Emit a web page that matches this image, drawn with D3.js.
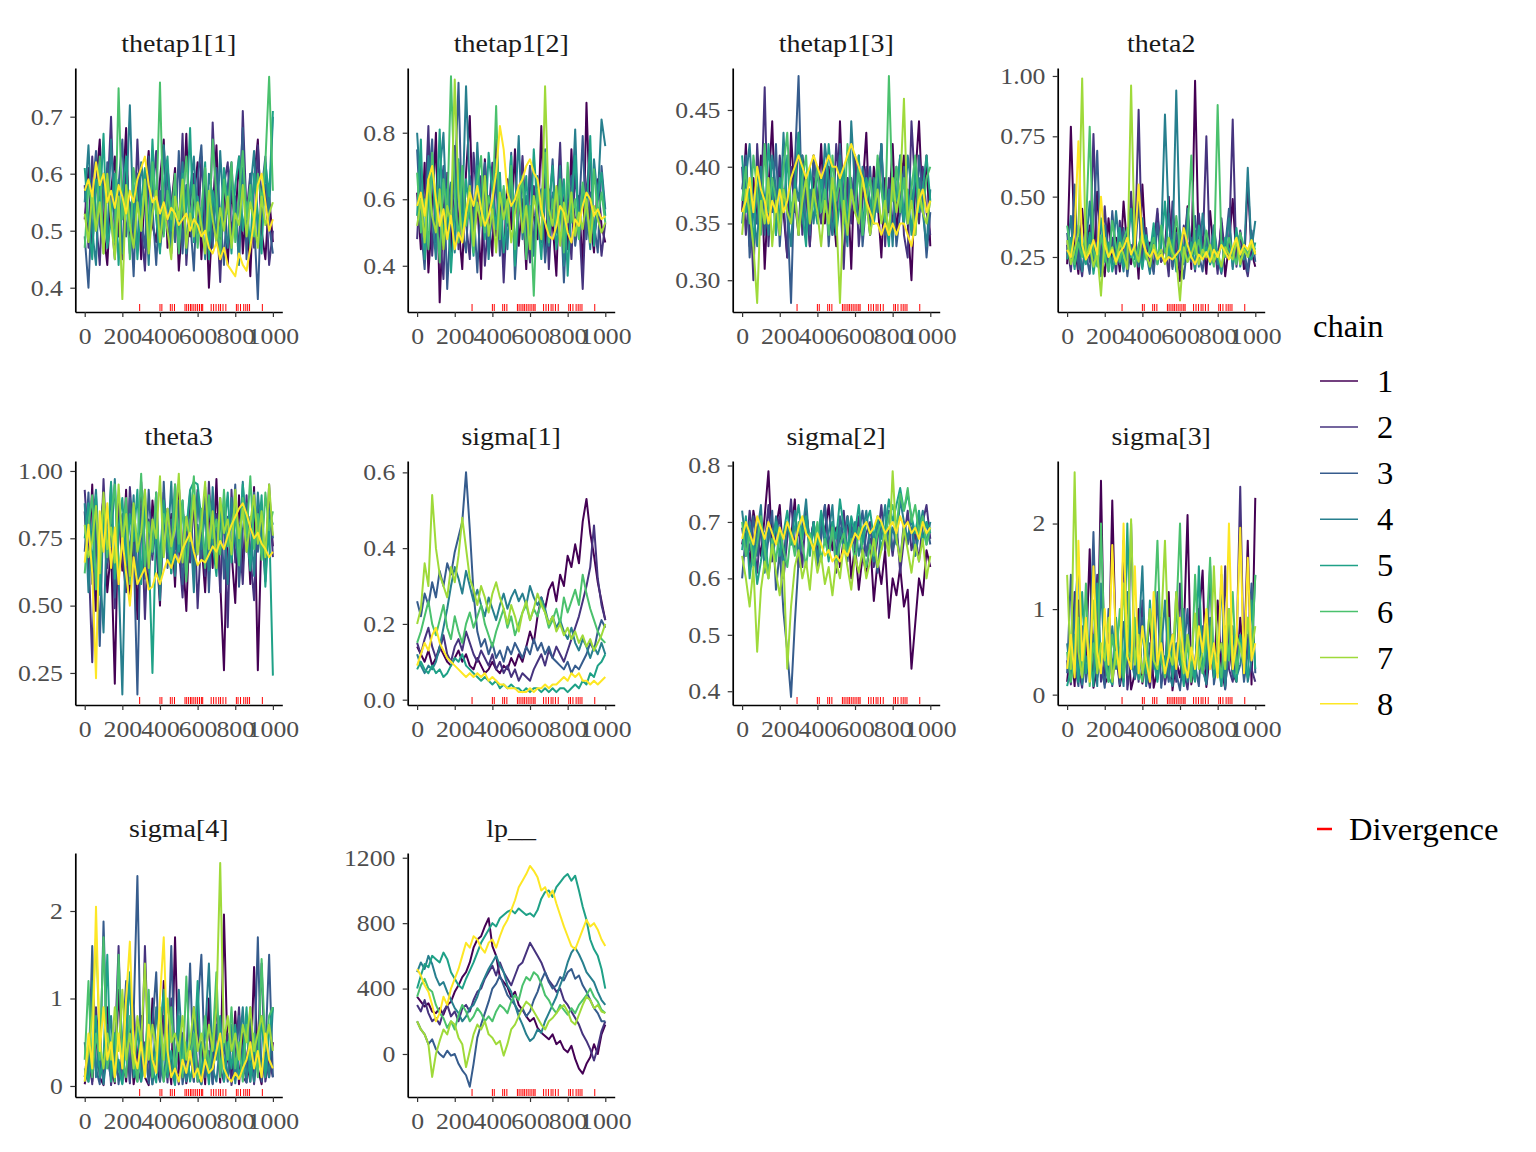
<!DOCTYPE html>
<html><head><meta charset="utf-8">
<script src="https://cdn.jsdelivr.net/npm/d3@7"></script>
<style>body{margin:0;background:#fff}svg{display:block}text{font-family:"Liberation Serif","Times New Roman",serif}</style>
</head><body>
<svg id="c" width="1536" height="1152"></svg>
<script>
const iterations = [0,20,40,60,80,100,120,140,160,180,200,220,240,260,280,300,320,340,360,380,400,420,440,460,480,500,520,540,560,580,600,620,640,660,680,700,720,740,760,780,800,820,840,860,880,900,920,940,960,980,1000];
const chains = ["1","2","3","4","5","6","7","8"];
const chainColors = ["#440154","#46337E","#365C8D","#277F8E","#1FA187","#4AC16D","#9FDA3A","#FDE725"];
const divergences = [292,400,410,455,465,477,533,542,552,562,570,580,590,600,610,620,627,672,685,698,712,722,735,750,806,815,828,845,856,866,876,944];
const xTickValues = [0,200,400,600,800,1000];

const thetap1_1 = [
[.52,.61,.47,.58,.66,.50,.44,.57,.63,.49,.55,.68,.46,.53,.60,.45,.57,.64,.51,.48,.59,.66,.47,.54,.61,.43,.52,.67,.49,.56,.62,.45,.58,.40,.53,.65,.48,.60,.44,.57,.51,.63,.46,.55,.42,.59,.66,.50,.45,.56,.48],
[.58,.47,.63,.52,.44,.60,.55,.70,.49,.57,.45,.62,.53,.48,.66,.51,.43,.59,.56,.64,.47,.52,.61,.46,.58,.50,.67,.44,.55,.60,.48,.63,.52,.46,.69,.54,.41,.58,.62,.49,.56,.45,.71,.53,.60,.47,.65,.52,.58,.44,.50],
[.49,.40,.56,.64,.51,.47,.62,.53,.45,.58,.66,.49,.55,.42,.60,.52,.47,.63,.54,.44,.57,.50,.61,.55,.48,.64,.46,.58,.52,.43,.59,.65,.50,.56,.47,.61,.53,.44,.58,.62,.49,.55,.68,.45,.60,.52,.38,.57,.63,.51,.46],
[.55,.65,.50,.44,.61,.57,.48,.66,.52,.59,.46,.55,.72,.50,.47,.62,.56,.44,.60,.53,.49,.65,.55,.47,.58,.51,.62,.46,.57,.63,.50,.54,.45,.60,.56,.48,.64,.52,.47,.59,.55,.44,.61,.50,.57,.64,.49,.55,.60,.53,.70],
[.61,.52,.45,.59,.54,.67,.47,.52,.60,.44,.56,.63,.50,.58,.45,.55,.61,.49,.66,.52,.46,.58,.63,.50,.55,.47,.60,.53,.68,.48,.56,.51,.62,.45,.57,.53,.49,.61,.55,.46,.58,.63,.50,.55,.47,.60,.53,.46,.62,.56,.71],
[.47,.58,.54,.50,.63,.46,.59,.53,.48,.75,.52,.57,.45,.61,.55,.50,.58,.47,.62,.53,.76,.49,.57,.52,.60,.46,.55,.63,.51,.58,.47,.54,.61,.50,.66,.56,.45,.59,.53,.62,.48,.56,.64,.52,.58,.49,.60,.55,.62,.77,.57],
[.53,.48,.57,.50,.55,.46,.60,.52,.45,.56,.38,.58,.51,.47,.55,.50,.59,.46,.53,.57,.48,.54,.50,.45,.56,.52,.59,.47,.53,.49,.55,.51,.46,.57,.52,.48,.54,.50,.56,.47,.53,.51,.58,.49,.55,.52,.47,.56,.51,.53,.55],
[.57,.59,.56,.62,.58,.60,.55,.57,.54,.58,.56,.53,.57,.55,.59,.61,.63,.58,.55,.56,.53,.55,.52,.54,.53,.51,.52,.53,.50,.52,.51,.49,.50,.47,.46,.48,.45,.47,.44,.43,.42,.46,.44,.43,.47,.52,.58,.60,.55,.50,.52]];

const thetap1_2 = [
[.62,.45,.71,.38,.55,.80,.29,.57,.66,.44,.73,.52,.39,.68,.85,.47,.60,.36,.72,.54,.43,.78,.58,.41,.66,.51,.75,.46,.60,.39,.70,.55,.48,.82,.44,.63,.53,.37,.69,.57,.45,.75,.50,.61,.38,.89,.54,.44,.66,.52,.47],
[.48,.70,.55,.82,.43,.61,.50,.36,.68,.57,.76,.45,.62,.53,.42,.74,.58,.67,.40,.55,.71,.49,.63,.35,.58,.69,.44,.56,.73,.52,.41,.64,.57,.47,.70,.39,.61,.54,.77,.46,.59,.42,.68,.55,.33,.63,.74,.48,.57,.43,.53],
[.75,.52,.39,.64,.78,.47,.59,.70,.33,.56,.64,.95,.51,.44,.67,.58,.38,.62,.71,.47,.55,.66,.43,.60,.52,.74,.36,.57,.65,.49,.70,.45,.58,.63,.41,.54,.72,.50,.62,.35,.59,.67,.46,.55,.79,.48,.62,.53,.44,.70,.57],
[.80,.61,.47,.73,.55,.42,.68,.80,.50,.65,.44,.71,.56,.94,.62,.48,.77,.53,.66,.42,.59,.72,.50,.63,.45,.68,.56,.79,.48,.61,.54,.43,.67,.58,.75,.46,.62,.52,.70,.40,.66,.55,.81,.49,.63,.58,.45,.72,.60,.84,.76],
[.55,.78,.42,.60,.69,.53,.81,.46,.63,.38,.57,.72,.49,.66,.55,.43,.70,.59,.48,.74,.62,.51,.68,.44,.57,.73,.40,.61,.53,.67,.47,.75,.56,.42,.63,.58,.70,.45,.55,.66,.37,.59,.73,.50,.64,.55,.79,.46,.61,.68,.55],
[.68,.50,.60,.45,.74,.58,.41,.66,.55,.97,.62,.47,.70,.52,.59,.44,.65,.73,.50,.61,.56,.88,.48,.64,.53,.70,.45,.59,.67,.42,.58,.31,.63,.55,.74,.47,.60,.52,.66,.44,.71,.53,.60,.48,.65,.57,.50,.69,.55,.62,.53],
[.52,.60,.47,.66,.55,.50,.63,.45,.58,.53,.96,.61,.48,.56,.64,.46,.59,.52,.67,.49,.57,.44,.62,.54,.60,.47,.56,.63,.50,.58,.45,.61,.55,.48,.94,.57,.52,.64,.46,.59,.53,.62,.49,.56,.51,.60,.47,.58,.54,.50,.53],
[.58,.62,.55,.66,.70,.60,.52,.57,.48,.55,.45,.50,.47,.56,.62,.58,.64,.57,.52,.55,.60,.68,.82,.75,.62,.58,.60,.64,.66,.70,.72,.68,.66,.57,.53,.49,.48,.52,.58,.56,.50,.47,.54,.52,.58,.62,.60,.55,.57,.54,.55]];

const thetap1_3 = [
[.36,.42,.33,.39,.35,.41,.31,.38,.44,.34,.40,.36,.32,.43,.37,.34,.41,.38,.33,.39,.36,.42,.35,.40,.37,.33,.44,.36,.39,.31,.41,.35,.38,.43,.34,.40,.37,.32,.39,.36,.42,.34,.38,.41,.35,.30,.39,.44,.36,.41,.33],
[.40,.34,.38,.30,.42,.36,.47,.33,.39,.35,.41,.37,.32,.40,.36,.43,.34,.38,.33,.41,.37,.35,.40,.36,.34,.42,.38,.31,.39,.35,.41,.33,.37,.40,.34,.38,.36,.42,.33,.39,.35,.37,.41,.34,.32,.44,.38,.35,.40,.36,.34],
[.38,.41,.32,.37,.35,.40,.34,.39,.36,.42,.33,.38,.36,.28,.40,.48,.35,.39,.34,.41,.37,.36,.40,.33,.38,.35,.42,.37,.34,.39,.36,.41,.33,.37,.40,.35,.38,.42,.34,.37,.39,.33,.36,.40,.35,.38,.34,.41,.37,.32,.36],
[.35,.39,.42,.36,.33,.40,.37,.34,.41,.38,.35,.43,.36,.33,.39,.37,.41,.34,.38,.35,.40,.36,.42,.39,.34,.37,.41,.36,.33,.44,.38,.35,.40,.37,.34,.39,.36,.42,.35,.38,.33,.40,.37,.35,.41,.38,.34,.39,.36,.33,.38],
[.41,.36,.38,.33,.40,.37,.35,.42,.38,.34,.39,.36,.41,.35,.38,.43,.36,.33,.40,.37,.35,.39,.36,.42,.38,.34,.37,.40,.35,.38,.36,.41,.34,.39,.37,.35,.40,.38,.36,.33,.39,.37,.41,.35,.38,.34,.40,.36,.38,.41,.37],
[.37,.40,.35,.41,.38,.34,.42,.36,.39,.37,.35,.40,.43,.36,.38,.34,.39,.41,.35,.37,.40,.36,.38,.34,.41,.37,.39,.35,.42,.38,.36,.40,.34,.37,.39,.36,.41,.38,.35,.48,.37,.40,.36,.39,.35,.38,.41,.37,.36,.39,.40],
[.34,.38,.36,.33,.28,.37,.35,.39,.33,.37,.34,.38,.36,.35,.38,.34,.37,.39,.35,.38,.36,.33,.37,.35,.39,.36,.28,.37,.34,.38,.36,.35,.39,.37,.34,.36,.38,.35,.37,.34,.39,.36,.38,.46,.35,.37,.34,.38,.36,.35,.37],
[.36,.37,.39,.36,.40,.38,.37,.35,.37,.36,.38,.36,.37,.39,.40,.41,.40,.39,.40,.41,.40,.39,.40,.41,.40,.40,.39,.40,.41,.42,.41,.40,.39,.37,.36,.35,.35,.34,.35,.34,.35,.34,.35,.35,.34,.33,.35,.37,.38,.36,.37]];

const theta2 = [
[.22,.79,.30,.18,.45,.25,.38,.20,.52,.27,.17,.41,.24,.33,.19,.48,.28,.22,.36,.16,.55,.26,.31,.19,.43,.23,.29,.50,.21,.37,.15,.27,.46,.20,.98,.25,.33,.18,.44,.26,.22,.39,.17,.30,.49,.24,.35,.20,.56,.27,.21],
[.30,.19,.42,.26,.17,.35,.23,.76,.28,.20,.46,.24,.33,.18,.40,.27,.21,.52,.25,.86,.22,.37,.19,.29,.45,.23,.31,.17,.48,.26,.20,.38,.24,.33,.19,.43,.27,.75,.22,.32,.18,.41,.25,.29,.82,.21,.36,.24,.17,.30,.26],
[.35,.24,.55,.20,.31,.27,.18,.40,.69,.23,.34,.19,.44,.26,.22,.37,.17,.30,.25,.48,.21,.33,.28,.18,.39,.24,.29,.43,.20,.35,.27,.16,.31,.23,.42,.26,.19,.34,.22,.38,.25,.18,.29,.45,.21,.33,.24,.28,.19,.36,.23],
[.26,.42,.21,.33,.19,.29,.48,.24,.31,.17,.38,.26,.22,.44,.28,.19,.35,.25,.30,.21,.41,.27,.18,.36,.24,.32,.84,.40,.26,.94,.33,.22,.45,.28,.36,.21,.43,.30,.25,.38,.22,.32,.27,.41,.20,.35,.29,.24,.62,.28,.40],
[.24,.33,.20,.38,.27,.22,.35,.18,.29,.41,.23,.31,.19,.26,.37,.21,.30,.45,.24,.28,.20,.34,.26,.39,.22,.29,.48,.25,.32,.19,.36,.27,.23,.31,.20,.38,.26,.29,.22,.34,.25,.19,.33,.28,.23,.37,.21,.30,.26,.24,.31],
[.38,.27,.22,.31,.25,.36,.79,.28,.21,.34,.26,.19,.40,.29,.23,.32,.37,.27,.21,.30,.35,.24,.28,.33,.22,.38,.27,.31,.25,.42,.29,.23,.34,.67,.26,.32,.24,.36,.28,.21,.88,.30,.25,.33,.27,.22,.35,.29,.26,.31,.28],
[.32,.22,.28,.35,.99,.24,.30,.21,.27,.09,.33,.25,.29,.22,.31,.26,.20,.96,.28,.23,.34,.26,.21,.30,.25,.28,.22,.33,.27,.24,.07,.29,.23,.26,.31,.22,.28,.25,.30,.23,.27,.21,.29,.26,.24,.32,.22,.28,.25,.30,.27],
[.28,.25,.35,.73,.30,.24,.27,.32,.26,.50,.30,.25,.28,.23,.27,.29,.33,.26,.30,.55,.32,.27,.25,.28,.24,.26,.23,.25,.24,.26,.28,.37,.30,.25,.22,.26,.24,.27,.23,.28,.25,.30,.27,.24,.29,.33,.26,.30,.28,.32,.26]];

const theta3 = [
[.85,.62,.95,.48,.78,.90,.55,.71,.21,.88,.63,.93,.52,.80,.45,.96,.67,.58,.89,.73,.50,.92,.66,.84,.57,.95,.70,.48,.86,.61,.93,.74,.55,.89,.64,.97,.59,.26,.82,.70,.51,.91,.65,.85,.58,.94,.26,.79,.67,.90,.72],
[.93,.70,.29,.85,.59,.97,.64,.80,.49,.91,.68,.55,.94,.73,.60,.88,.45,.82,.67,.92,.57,.78,.86,.62,.95,.71,.53,.83,.66,.90,.49,.77,.61,.96,.70,.84,.55,.88,.42,.93,.66,.80,.58,.91,.69,.52,.87,.74,.63,.95,.68],
[.70,.92,.58,.81,.35,.88,.66,.95,.53,.76,.84,.61,.90,.72,.17,.85,.60,.93,.69,.79,.54,.96,.64,.82,.71,.89,.58,.75,.92,.63,.80,.67,.94,.55,.86,.73,.90,.60,.83,.69,.95,.57,.78,.88,.64,.92,.70,.81,.59,.87,.75],
[.88,.55,.79,.93,.66,.40,.85,.72,.97,.61,.17,.83,.69,.91,.58,.80,.93,.64,.75,.87,.52,.84,.70,.96,.61,.78,.89,.66,.82,.55,.92,.71,.85,.63,.94,.68,.79,.86,.58,.90,.74,.65,.96,.70,.83,.61,.92,.76,.68,.85,.80],
[.75,.88,.63,.91,.54,.82,.70,.96,.60,.79,.90,.65,.84,.74,.93,.58,.87,.71,.25,.81,.67,.89,.76,.62,.92,.70,.85,.78,.93,.96,.95,.82,.68,.90,.73,.61,.86,.77,.92,.66,.84,.71,.95,.79,.63,.88,.73,.91,.57,.82,.24],
[.62,.80,.91,.56,.77,.88,.68,.83,.95,.62,.75,.90,.58,.86,.72,.99,.64,.81,.70,.92,.60,.84,.77,.67,.95,.73,.89,.59,.81,.98,.70,.86,.64,.91,.75,.82,.69,.93,.72,.80,.87,.65,.90,.76,.98,.71,.84,.67,.92,.78,.85],
[.80,.68,.74,.87,.62,.92,.71,.79,.66,.95,.73,.84,.61,.88,.70,.77,.93,.64,.82,.75,.98,.68,.86,.72,.79,.99,.66,.83,.74,.91,.69,.80,.96,.71,.85,.64,.90,.77,.82,.69,.93,.75,.86,.70,.81,.91,.73,.85,.68,.95,.76],
[.66,.80,.62,.23,.85,.70,.88,.64,.79,.58,.75,.62,.50,.68,.58,.61,.64,.56,.57,.62,.58,.63,.67,.64,.69,.66,.71,.74,.77,.70,.65,.67,.66,.69,.72,.70,.74,.71,.76,.80,.83,.86,.88,.84,.79,.75,.77,.73,.71,.68,.70]];

const sigma_1 = [
[.14,.12,.10,.13,.09,.11,.14,.12,.10,.09,.11,.13,.10,.12,.09,.08,.11,.09,.07,.08,.10,.08,.07,.09,.08,.11,.09,.12,.10,.14,.18,.15,.22,.27,.24,.29,.31,.26,.33,.30,.38,.35,.41,.36,.47,.53,.44,.38,.31,.26,.21],
[.15,.12,.16,.19,.14,.11,.13,.17,.12,.10,.14,.16,.13,.18,.15,.12,.10,.13,.11,.09,.12,.08,.10,.07,.09,.06,.08,.05,.07,.06,.05,.08,.10,.12,.09,.13,.11,.14,.12,.10,.13,.16,.19,.22,.26,.30,.35,.46,.32,.25,.21],
[.26,.22,.28,.25,.31,.27,.34,.30,.36,.33,.39,.43,.47,.60,.45,.28,.18,.14,.16,.12,.15,.11,.13,.10,.14,.12,.15,.13,.11,.14,.12,.16,.13,.15,.12,.14,.11,.10,.09,.08,.10,.07,.09,.08,.10,.12,.15,.13,.18,.21,.19],
[.12,.09,.07,.09,.08,.10,.14,.19,.24,.30,.35,.32,.28,.34,.30,.26,.29,.25,.22,.27,.24,.21,.25,.28,.24,.27,.29,.26,.28,.25,.30,.27,.25,.27,.24,.20,.22,.19,.21,.18,.16,.19,.15,.13,.16,.14,.11,.14,.12,.15,.12],
[.08,.10,.08,.07,.09,.07,.08,.06,.07,.09,.11,.10,.12,.09,.08,.07,.06,.05,.06,.05,.04,.05,.03,.04,.03,.04,.03,.03,.02,.03,.02,.03,.03,.02,.03,.02,.03,.02,.03,.03,.02,.03,.04,.03,.05,.04,.07,.06,.09,.10,.12],
[.15,.18,.22,.26,.20,.17,.21,.25,.19,.16,.22,.18,.15,.20,.23,.19,.22,.25,.20,.17,.14,.18,.21,.24,.19,.22,.17,.20,.23,.25,.21,.24,.22,.26,.23,.19,.21,.24,.20,.27,.23,.26,.29,.25,.33,.28,.24,.21,.18,.16,.15],
[.20,.24,.36,.30,.54,.40,.33,.30,.27,.35,.31,.38,.48,.40,.32,.29,.25,.30,.27,.23,.28,.31,.27,.24,.20,.25,.22,.18,.23,.26,.21,.24,.28,.25,.23,.20,.22,.18,.20,.17,.19,.16,.18,.15,.17,.14,.16,.13,.15,.17,.20],
[.09,.12,.15,.13,.17,.19,.15,.13,.11,.10,.09,.08,.07,.06,.07,.06,.07,.06,.07,.05,.06,.05,.04,.04,.03,.03,.03,.02,.02,.02,.03,.02,.03,.03,.04,.03,.04,.04,.05,.06,.05,.07,.06,.07,.05,.05,.04,.05,.04,.05,.06]];

const sigma_2 = [
[.66,.70,.62,.72,.68,.64,.71,.79,.65,.69,.73,.63,.70,.67,.74,.62,.69,.72,.66,.70,.64,.71,.68,.73,.65,.69,.62,.67,.71,.60,.66,.58,.64,.61,.67,.56,.63,.59,.65,.53,.60,.57,.62,.55,.58,.44,.52,.60,.57,.65,.62],
[.69,.64,.72,.67,.61,.70,.66,.73,.63,.68,.71,.60,.67,.74,.65,.69,.62,.72,.66,.70,.63,.68,.73,.65,.70,.61,.67,.72,.64,.69,.66,.71,.63,.68,.70,.62,.67,.73,.65,.69,.64,.70,.61,.67,.72,.65,.68,.63,.70,.73,.67],
[.60,.68,.65,.71,.64,.69,.62,.67,.72,.58,.65,.54,.47,.39,.52,.63,.68,.71,.65,.70,.62,.67,.73,.66,.69,.64,.71,.67,.63,.70,.65,.68,.72,.64,.69,.66,.61,.70,.67,.72,.65,.68,.63,.70,.66,.69,.64,.71,.67,.70,.66],
[.72,.66,.70,.63,.68,.73,.61,.69,.65,.71,.67,.62,.70,.66,.72,.64,.68,.74,.65,.69,.63,.71,.66,.68,.73,.62,.69,.65,.71,.67,.70,.64,.68,.72,.66,.63,.70,.67,.73,.65,.69,.66,.74,.70,.67,.71,.64,.68,.72,.66,.70],
[.65,.71,.60,.66,.59,.63,.68,.61,.65,.70,.64,.68,.72,.66,.69,.73,.67,.71,.64,.70,.66,.72,.68,.63,.70,.67,.74,.69,.65,.71,.68,.73,.66,.70,.72,.67,.71,.65,.69,.74,.70,.73,.76,.72,.75,.71,.68,.72,.66,.70,.68],
[.70,.64,.68,.62,.66,.71,.65,.60,.67,.63,.69,.65,.62,.68,.64,.70,.66,.62,.68,.65,.70,.63,.67,.64,.69,.62,.66,.68,.64,.67,.63,.69,.65,.62,.66,.64,.68,.70,.67,.71,.73,.69,.75,.72,.76,.70,.73,.68,.71,.66,.69],
[.64,.60,.55,.62,.47,.58,.63,.60,.66,.61,.57,.63,.44,.55,.62,.65,.60,.63,.58,.66,.61,.64,.59,.62,.57,.63,.60,.66,.62,.58,.64,.61,.65,.60,.63,.67,.62,.65,.68,.64,.79,.67,.63,.69,.65,.61,.66,.63,.67,.60,.64],
[.67,.70,.68,.66,.71,.69,.67,.70,.68,.66,.69,.67,.70,.68,.66,.69,.71,.68,.67,.65,.68,.66,.64,.65,.63,.64,.63,.65,.64,.66,.68,.67,.69,.70,.68,.69,.71,.70,.68,.69,.70,.68,.71,.69,.70,.68,.69,.67,.70,.68,.69]];

const sigma_3 = [
[.15,.60,.10,1.1,.20,.40,1.7,.08,.30,2.5,.12,.22,2.27,.50,.10,.35,.80,.06,.25,1.0,.13,.45,.90,.08,.30,.60,.15,1.2,.05,.40,.20,.70,2.1,.12,.35,.90,1.45,.09,.50,.20,1.1,.30,.07,.60,.25,.15,.90,.40,1.8,.12,2.3],
[.40,.12,1.2,.30,.08,.70,.25,.50,1.4,.15,.35,.90,.10,.60,.20,1.8,.06,.40,.80,.15,1.1,.30,.08,.50,.22,.90,.12,.40,.70,.15,1.3,.28,.06,.55,.18,1.0,.35,.12,.80,.25,.60,.10,1.5,.30,.15,.50,2.43,.20,.70,.30,.15],
[.25,1.4,.35,.10,.80,.15,.50,1.9,.20,.40,.08,1.0,.30,.60,.12,.85,.25,2.0,.18,.40,.90,.10,.60,.30,1.2,.08,.45,.15,.70,.25,.05,.50,1.0,.20,.35,.10,.80,.30,1.5,.12,.40,.60,.06,.90,.20,.35,.70,.15,.50,1.3,.25],
[.60,.20,.90,1.6,.12,.45,.25,.70,.10,1.3,.35,.15,.80,.30,.55,.10,1.2,.40,.20,.65,1.5,.12,.30,.85,.18,.50,1.1,.25,.10,.60,.35,1.0,.15,.45,.20,.70,.30,.12,.90,.40,.25,1.4,.10,.55,.80,.20,.35,.65,.15,.40,1.4],
[.10,.30,.70,.15,1.2,.25,.50,.10,1.3,.35,.60,.20,.12,.90,.40,.15,2.0,.30,.55,.18,.80,.25,1.1,.40,.15,.60,.30,.90,.20,1.2,.45,.10,.70,.35,.15,1.5,.25,.50,.80,.20,.40,.10,.60,1.0,.30,.15,.70,.40,.20,1.1,.30],
[.50,.15,.40,.90,.25,1.3,.10,.60,.30,2.0,.45,.15,.70,.35,1.0,.20,.55,.40,.90,.30,.15,.60,.25,.80,1.8,.40,.20,.50,.35,.90,2.0,.30,.60,.15,1.4,.45,.25,.70,1.6,.30,.50,.20,.80,.40,1.2,.25,.60,.35,.90,.45,1.4],
[1.4,.30,2.6,.50,.20,.80,.35,1.1,.25,.60,.40,.90,.15,.50,.30,1.3,.45,2.05,.35,.70,.25,.55,1.0,.40,.30,.80,1.8,.50,.35,1.2,.60,.25,.70,.40,.95,.30,.50,.80,.35,1.5,.45,.60,.30,1.0,.40,.70,.55,.35,.90,.50,.80],
[.30,.70,.20,1.8,.40,.90,.15,1.5,.50,.25,1.0,.35,1.75,.60,.20,2.0,.45,.30,1.5,.25,.80,.40,.15,1.2,.35,.60,.25,.45,.70,.30,.90,.40,.20,.55,.30,.80,.50,1.0,.30,.60,.20,1.5,.40,2.0,.30,.60,1.95,.25,1.6,.40,.60]];

const sigma_4 = [
[.02,.30,.05,.60,.10,.01,.90,.20,.03,1.1,.40,.05,.70,.02,.30,.80,.10,.01,1.0,.25,.05,1.2,.40,.02,1.7,.15,.60,.03,.30,.90,.05,.50,.02,1.0,.20,.70,.04,1.96,.30,.10,.85,.02,.60,.30,.05,1.36,.20,.02,.50,.10,.50],
[.10,.50,.02,.90,.30,.05,.70,.01,.40,1.6,.10,.60,.03,.90,.20,.05,1.6,.30,.02,.50,.10,.80,.04,1.0,.30,.02,.60,.10,.40,.05,.80,.02,.30,.70,.03,1.0,.20,.05,.60,.01,.30,.90,.10,.04,.70,.02,.50,1.4,.05,.30,.10],
[.50,.05,1.6,.20,.02,1.88,.30,.10,.60,.02,.40,1.2,.05,.80,2.4,.10,.50,.03,.70,1.3,.05,.40,.20,1.6,.10,.60,.02,.30,1.4,.05,.90,1.5,.10,.40,.02,.70,.20,.50,.05,.60,.10,.80,.30,.04,.90,.20,1.7,.05,.40,1.5,.10],
[.05,.20,1.2,.10,.50,.02,.40,.80,.10,.30,.03,.60,1.2,.20,.05,.50,.10,.70,.02,.90,.30,.05,.60,.20,.01,1.1,.40,.05,.30,.80,.10,.02,.60,1.4,.20,.05,.50,.30,.10,.70,.03,.40,.90,.10,.30,.05,.60,.20,.40,.10,.90],
[.20,.05,.40,.80,.10,.30,1.5,.05,.60,.20,.02,.50,1.3,.10,.70,.05,.30,.90,.20,.04,.60,1.1,.10,.40,.02,.80,.20,.50,.05,.30,1.2,.10,.40,.02,.60,.30,.80,.05,.50,.20,.70,.10,.30,.90,.05,.50,.20,.80,.10,.60,.90],
[.30,1.2,.10,.60,.30,1.7,.20,.50,.05,1.5,.30,.10,.80,.40,.05,.60,.20,1.1,.10,.40,.70,.05,.30,.90,.20,.50,.10,1.25,.30,.60,.05,.40,.80,.20,.50,1.3,.10,.60,.30,.90,.20,.50,.05,.70,.30,.60,.10,1.45,.40,.80,.90],
[.10,.40,.80,1.7,.50,.20,.60,.30,.90,.40,1.1,.30,.60,.20,.80,.50,1.4,.30,.70,.40,.90,.30,1.0,.50,.60,.40,.80,.30,.50,.90,.40,.60,.30,.70,.40,.90,2.55,.50,.80,.40,.60,.30,.70,.50,.90,.40,.60,.80,.50,.70,.40],
[.05,.60,.20,2.05,.40,.90,.30,.50,.10,.60,.20,1.0,1.65,.40,.20,.50,.10,.70,.30,.15,1.0,1.7,.40,.10,.20,.05,.30,.15,.40,.10,.20,.05,.30,.15,.20,.40,.60,.20,.10,.05,.15,.08,.20,.30,.50,.20,.40,.10,.60,.30,.20]];

const lp__ = [
[350,320,290,310,260,250,280,240,300,320,380,420,470,500,560,650,700,720,780,830,660,600,470,440,410,350,380,300,270,230,200,220,160,130,110,90,120,60,80,30,10,50,-30,-90,-120,-60,-20,60,0,120,180],
[300,260,330,250,200,220,180,260,300,230,260,200,280,300,260,330,380,400,460,500,540,480,560,500,460,420,480,540,560,620,680,640,600,560,500,450,420,380,400,330,300,260,220,180,120,80,30,-40,40,140,200],
[200,150,120,60,90,30,0,-20,20,-10,0,-60,-100,-130,-200,-60,100,180,250,320,400,430,480,420,360,330,300,260,280,230,260,330,380,450,500,440,400,420,470,450,500,520,460,480,420,380,330,280,250,200,200],
[500,560,520,600,550,470,420,440,380,330,280,250,200,230,280,300,350,420,470,520,560,600,540,500,420,380,300,230,180,120,80,100,150,130,200,250,300,350,420,480,560,620,650,610,560,500,470,440,380,330,300],
[400,480,550,530,600,580,560,620,580,500,460,420,400,460,510,560,620,680,720,760,800,780,830,850,870,880,860,890,870,850,860,840,880,950,990,1000,960,1020,1050,1080,1100,1060,1090,1000,900,820,700,640,600,520,400],
[350,420,460,400,380,300,250,220,160,200,150,240,300,260,200,230,280,250,200,230,200,260,300,280,250,320,360,330,420,470,450,500,480,430,360,330,280,250,300,270,240,280,250,300,330,360,400,350,320,270,250],
[200,150,120,60,-140,0,80,150,120,200,180,100,60,-80,20,120,180,150,200,120,100,60,80,-10,60,150,180,230,280,320,300,260,220,180,150,200,220,250,280,300,260,200,180,240,300,350,330,280,300,260,250],
[520,480,420,380,300,200,250,350,300,400,460,520,600,680,650,720,700,650,620,680,700,650,720,780,820,880,940,1020,1060,1100,1150,1120,1080,1000,1020,960,1000,920,850,780,720,660,640,700,760,820,780,800,760,700,660]];

const panelTitles = ["thetap1[1]","thetap1[2]","thetap1[3]","theta2","theta3","sigma[1]","sigma[2]","sigma[3]","sigma[4]","lp__"];
const panelData = [thetap1_1, thetap1_2, thetap1_3, theta2, theta3, sigma_1, sigma_2, sigma_3, sigma_4, lp__];
const yTickValues = [[0.4,0.5,0.6,0.7],[0.4,0.6,0.8],[0.30,0.35,0.40,0.45],[0.25,0.5,0.75,1],[0.25,0.5,0.75,1],[0,0.2,0.4,0.6],[0.4,0.5,0.6,0.7,0.8],[0,1,2],[0,1,2],[0,400,800,1200]];
const yTickLabels = [["0.4","0.5","0.6","0.7"],["0.4","0.6","0.8"],["0.30","0.35","0.40","0.45"],["0.25","0.50","0.75","1.00"],["0.25","0.50","0.75","1.00"],["0.0","0.2","0.4","0.6"],["0.4","0.5","0.6","0.7","0.8"],["0","1","2"],["0","1","2"],["0","400","800","1200"]];
const yDomains = [[0.3574,0.7854],[0.261,0.9946],[0.272,0.487],[0.022,1.033],[0.131,1.037],[-0.014,0.630],[0.3756,0.808],[-0.121,2.731],[-0.126,2.663],[-263,1229]];

// ---- layout ----
const colLeft = [75.3, 407.7, 732.7, 1057.7], rowTop = [68, 461, 853];
const pw = 207, ph = 244;
const SX = 1.12;
const svg = d3.select("#c");

panelData.forEach((series, i) => {
  const col = i % 4, row = Math.floor(i / 4);
  const x0 = colLeft[col], y0 = rowTop[row];
  const x = d3.scaleLinear().domain([-50, 1050]).range([x0, x0 + pw]);
  const y = d3.scaleLinear().domain(yDomains[i]).range([y0 + ph, y0]);
  const g = svg.append("g");
  const line = d3.line().x((d, j) => x(iterations[j])).y(d => y(d)).curve(d3.curveLinear);
  series.forEach((vals, c) => {
    g.append("path").attr("d", line(vals.slice(0, iterations.length)))
      .attr("fill", "none").attr("stroke", chainColors[c])
      .attr("stroke-width", 2).attr("stroke-linejoin", "round");
  });
  g.append("g").selectAll("line").data(divergences).join("line")
    .attr("x1", d => x(d)).attr("x2", d => x(d))
    .attr("y1", y0 + ph - 8).attr("y2", y0 + ph - 1)
    .attr("stroke", "#ff0000").attr("stroke-width", 1);

  const xa = g.append("g").attr("transform", `translate(0,${y0 + ph})`)
    .call(d3.axisBottom(x).tickValues(xTickValues).tickFormat(d3.format("d")).tickSize(5).tickSizeOuter(0).tickPadding(11));
  const ya = g.append("g").attr("transform", `translate(${x0},0)`)
    .call(d3.axisLeft(y).tickValues(yTickValues[i]).tickFormat((d, k) => yTickLabels[i][k]).tickSize(5).tickSizeOuter(0).tickPadding(6));
  [xa, ya].forEach(a => {
    a.select(".domain").attr("stroke", "#000").attr("stroke-width", 1.7);
    a.selectAll(".tick line").attr("stroke", "#333").attr("stroke-width", 1.2);
    a.selectAll(".tick text").attr("fill", "#4d4d4d").attr("font-size", 23)
      .style("font-family", "'Liberation Serif', serif").attr("transform", `scale(${SX},1)`);
  });
  g.append("text").attr("transform", `translate(${x0 + pw / 2},${y0 - 16}) scale(${SX},1)`)
    .attr("text-anchor", "middle").attr("font-size", 25).attr("fill", "#1a1a1a")
    .text(panelTitles[i]);
});

// ---- legend ----
const lg = svg.append("g");
lg.append("text").attr("transform", `translate(1313,337) scale(1.05,1)`).attr("font-size", 31).attr("fill", "#000").text("chain");
chains.forEach((c, k) => {
  const yy = 381 + k * 46.1;
  lg.append("line").attr("x1", 1320).attr("x2", 1358).attr("y1", yy).attr("y2", yy)
    .attr("stroke", chainColors[k]).attr("stroke-width", 1.5);
  lg.append("text").attr("transform", `translate(1377,${yy + 11}) scale(1.05,1)`).attr("font-size", 31).attr("fill", "#000").text(c);
});
lg.append("line").attr("x1", 1317).attr("x2", 1332).attr("y1", 829).attr("y2", 829).attr("stroke", "#ff0000").attr("stroke-width", 2.5);
lg.append("text").attr("transform", `translate(1349,840) scale(1.05,1)`).attr("font-size", 31).attr("fill", "#000").text("Divergence");
</script>
</body></html>
